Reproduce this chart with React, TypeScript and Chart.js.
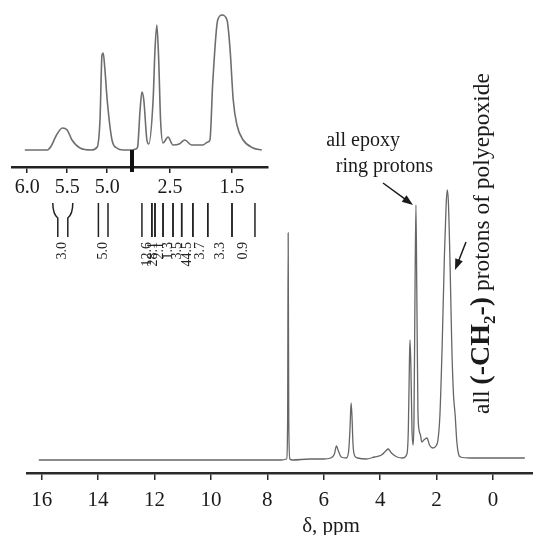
import React, { useEffect, useRef } from "react";
import { Chart, registerables } from "chart.js";

Chart.register(...registerables);

const SERIF = "'Liberation Serif', 'Times New Roman', serif";

// ---------- main spectrum ----------
const mainPpm = [
  16.1, 14.0, 10.0, 7.5, 7.32, 7.28, 7.26, 7.24, 7.2, 7.1, 6.5, 6.0, 5.75, 5.62, 5.55, 5.48, 5.38,
  5.2, 5.12, 5.07, 5.03, 5.0, 4.96, 4.9, 4.8, 4.5, 4.2, 3.95, 3.8, 3.72, 3.6, 3.4, 3.2, 3.05, 3.0,
  2.96, 2.94, 2.91, 2.87, 2.83, 2.8, 2.76, 2.73, 2.7, 2.66, 2.62, 2.57, 2.52, 2.45, 2.34, 2.25,
  2.13, 2.02, 1.95, 1.88, 1.8, 1.72, 1.66, 1.62, 1.58, 1.52, 1.46, 1.4, 1.34, 1.28, 1.22, 1.15, 0.8,
  0.0, -1.13,
];
const mainIntensity = [
  0, 0, 0, 0, 1, 40, 227, 40, 1, 0, 1, 1, 2, 6, 14, 9, 3,
  2, 8, 30, 57, 45, 15, 4, 2, 1, 3, 5, 9, 11, 7, 3, 2, 6, 30,
  100, 120, 95, 30, 15, 40, 180, 255, 170, 50, 30, 25, 18, 20, 22, 15,
  12, 14, 20, 45, 115, 205, 255, 270, 258, 195, 115, 66, 45, 18, 6, 3, 2,
  2, 2,
];
const mainTicks = [16, 14, 12, 10, 8, 6, 4, 2, 0];
const mainTitle = "δ, ppm";

// ---------- inset (broken axis) ----------
const insetLeftPpm = [6.03, 5.75, 5.7, 5.64, 5.56, 5.5, 5.44, 5.34, 5.2, 5.125, 5.09, 5.065, 5.05, 5.03, 5.0, 4.94, 4.88, 4.8, 4.69];
const insetLeftIntensity = [0, 0, 4, 14, 22, 20, 10, 2, 0, 3, 30, 95, 97, 82, 50, 10, 2, 0, 0];
const insetRightPpm = [
  3.11, 3.05, 3.02, 2.98, 2.95, 2.92, 2.87, 2.84, 2.77, 2.74, 2.71, 2.68, 2.65, 2.61, 2.53, 2.45,
  2.35, 2.26, 2.15, 1.97, 1.89, 1.855, 1.81, 1.73, 1.66, 1.58, 1.53, 1.48, 1.42, 1.32, 1.16, 1.02,
];
const insetRightIntensity = [
  0, 1, 3, 40, 58, 50, 10, 6, 50, 100, 125, 90, 30, 7, 13, 5,
  6, 10, 5, 5, 8, 10, 67, 130, 135, 130, 100, 50, 25, 10, 2, 0,
];
const insetLeftTicks = [6.0, 5.5, 5.0];
const insetRightTicks = [2.5, 1.5];

// integration regions [from ppm, to ppm] and values
const integLeftRegions = [[5.68, 5.43], [5.11, 4.99]];
const integLeftValues = ["3.0", "5.0"];
const integRightEdges = [2.95, 2.79, 2.74, 2.61, 2.45, 2.31, 2.13, 1.89, 1.5, 1.13];
const integRightValues = ["12.6", "28.1", "2.1", "1.3", "3.5", "44.5", "3.7", "3.3", "0.9"];

const epoxyLabel = ["all epoxy", "ring protons"];
const ch2Label = [
  { t: "all ", bold: false, sub: false },
  { t: "(-CH", bold: true, sub: false },
  { t: "2", bold: true, sub: true },
  { t: "-)", bold: true, sub: false },
  { t: " protons of polyepoxide", bold: false, sub: false },
];

function arrow(ctx: CanvasRenderingContext2D, x1: number, y1: number, x2: number, y2: number) {
  const a = Math.atan2(y2 - y1, x2 - x1);
  ctx.beginPath();
  ctx.moveTo(x1, y1);
  ctx.lineTo(x2 - 6 * Math.cos(a), y2 - 6 * Math.sin(a));
  ctx.stroke();
  ctx.beginPath();
  ctx.moveTo(x2, y2);
  ctx.lineTo(x2 - 11 * Math.cos(a) + 4 * Math.sin(a), y2 - 11 * Math.sin(a) - 4 * Math.cos(a));
  ctx.lineTo(x2 - 11 * Math.cos(a) - 4 * Math.sin(a), y2 - 11 * Math.sin(a) + 4 * Math.cos(a));
  ctx.closePath();
  ctx.fill();
}

const mainAnnot = {
  id: "mainAnnot",
  afterDraw(chart: any) {
    const { ctx } = chart;
    ctx.save();
    ctx.fillStyle = "#1a1a1a";
    ctx.strokeStyle = "#1a1a1a";
    ctx.font = `21px ${SERIF}`;
    ctx.textAlign = "center";
    ctx.textBaseline = "middle";
    ctx.fillText(mainTitle, 331, 526);

    ctx.font = `20px ${SERIF}`;
    ctx.textAlign = "right";
    ctx.textBaseline = "alphabetic";
    ctx.fillText(epoxyLabel[0], 400, 146);
    ctx.fillText(epoxyLabel[1], 433, 172);

    ctx.lineWidth = 1.5;
    arrow(ctx, 383, 183, 413, 205);
    arrow(ctx, 466, 242, 455, 270);

    ctx.translate(489, 414);
    ctx.rotate(-Math.PI / 2);
    ctx.textAlign = "left";
    let pos = 0;
    for (const s of ch2Label) {
      ctx.font = `${s.bold ? "bold " : ""}${s.sub ? 17 : s.bold ? 28 : 23.5}px ${SERIF}`;
      ctx.fillText(s.t, pos, s.sub ? 6 : 0);
      pos += ctx.measureText(s.t).width;
    }
    ctx.restore();
  },
};

function makeIntegPlugin(regions: number[][], values: string[], curved: boolean) {
  return {
    id: "integ",
    afterDraw(chart: any) {
      const { ctx } = chart;
      const x = chart.scales.x;
      ctx.save();
      ctx.strokeStyle = "#222";
      ctx.fillStyle = "#222";
      ctx.lineWidth = 1.5;
      regions.forEach((r, i) => {
        const p1 = x.getPixelForValue(r[0]);
        const p2 = x.getPixelForValue(r[1]);
        const c = (p1 + p2) / 2;
        const wide = curved && Math.abs(p2 - p1) > 14;
        [p1, p2].forEach((p) => {
          ctx.beginPath();
          ctx.moveTo(p, 203);
          if (wide) {
            const inner = p < c ? c - 5 : c + 5;
            ctx.quadraticCurveTo(p, 214, inner, 218);
            ctx.lineTo(inner, 237);
          } else {
            ctx.lineTo(p, 237);
          }
          ctx.stroke();
        });
        ctx.save();
        ctx.translate(c, 242);
        ctx.rotate(-Math.PI / 2);
        ctx.font = `14px ${SERIF}`;
        ctx.textAlign = "right";
        ctx.textBaseline = "middle";
        ctx.fillText(values[i], 0, 0);
        ctx.restore();
      });
      ctx.restore();
    },
  };
}

function insetConfig(ppm: number[], inten: number[], ticks: number[], min: number, max: number, padL: number, padR: number, plugin: any) {
  return {
    type: "line" as const,
    data: {
      datasets: [
        {
          data: ppm.map((p, i) => ({ x: p, y: inten[i] })),
          borderColor: "#6e6e6e",
          borderWidth: 1.6,
          pointRadius: 0,
          cubicInterpolationMode: "monotone" as const,
        },
      ],
    },
    options: {
      animation: false as const,
      responsive: false,
      maintainAspectRatio: false,
      layout: { padding: { left: padL, right: padR, top: 10, bottom: 0 } },
      plugins: { legend: { display: false }, tooltip: { enabled: false } },
      scales: {
        x: {
          type: "linear" as const,
          reverse: true,
          min,
          max,
          afterBuildTicks: (s: any) => {
            s.ticks = ticks.map((v) => ({ value: v }));
          },
          afterFit: (s: any) => {
            s.height = 118;
          },
          border: { display: true, color: "#222", width: 2.5 },
          grid: { display: true, drawOnChartArea: false, drawTicks: true, tickLength: 6, color: "#222", lineWidth: 1.5 },
          ticks: {
            color: "#1a1a1a",
            font: { family: SERIF, size: 20 },
            padding: 3,
            maxRotation: 0,
            callback: (v: any) => Number(v).toFixed(1),
          },
        },
        y: { display: false, min: -17, max: 140 },
      },
    },
    plugins: [plugin],
  };
}

export default function App() {
  const mainRef = useRef<HTMLCanvasElement>(null);
  const leftRef = useRef<HTMLCanvasElement>(null);
  const rightRef = useRef<HTMLCanvasElement>(null);

  useEffect(() => {
    const charts: Chart[] = [];
    charts.push(
      new Chart(mainRef.current!, {
        type: "line",
        data: {
          datasets: [
            {
              data: mainPpm.map((p, i) => ({ x: p, y: mainIntensity[i] })),
              borderColor: "#666",
              borderWidth: 1.3,
              pointRadius: 0,
              cubicInterpolationMode: "monotone",
            },
          ],
        },
        options: {
          animation: false,
          responsive: false,
          maintainAspectRatio: false,
          layout: { padding: { left: 27, right: 0, top: 10, bottom: 0 } },
          plugins: { legend: { display: false }, tooltip: { enabled: false } },
          scales: {
            x: {
              type: "linear",
              reverse: true,
              min: -1.42,
              max: 16.52,
              afterBuildTicks: (s: any) => {
                s.ticks = mainTicks.map((v) => ({ value: v }));
              },
              afterFit: (s: any) => {
                s.height = 62;
              },
              border: { display: true, color: "#2a2a2a", width: 2.5 },
              grid: { display: true, drawOnChartArea: false, drawTicks: true, tickLength: 7, color: "#2a2a2a", lineWidth: 1.5 },
              ticks: {
                color: "#1a1a1a",
                font: { family: SERIF, size: 21 },
                padding: 8,
                maxRotation: 0,
                callback: (v: any) => String(v),
              },
            },
            y: { display: false, min: -13, max: 450 },
          },
        },
        plugins: [mainAnnot],
      } as any)
    );
    charts.push(
      new Chart(
        leftRef.current!,
        insetConfig(insetLeftPpm, insetLeftIntensity, insetLeftTicks, 4.69, 6.19, 12, 2, makeIntegPlugin(integLeftRegions, integLeftValues, true)) as any
      )
    );
    const rightRegions = integRightValues.map((_, i) => [integRightEdges[i], integRightEdges[i + 1]]);
    charts.push(
      new Chart(
        rightRef.current!,
        insetConfig(insetRightPpm, insetRightIntensity, insetRightTicks, 0.92, 3.11, 0, 4, makeIntegPlugin(rightRegions, integRightValues, false)) as any
      )
    );
    return () => charts.forEach((c) => c.destroy());
  }, []);

  return (
    <div style={{ position: "absolute", left: 0, top: 0, width: 533, height: 535, background: "#fff", overflow: "hidden" }}>
      <canvas ref={mainRef} width={533} height={535} style={{ position: "absolute", left: 0, top: 0, display: "block" }} />
      <canvas ref={leftRef} width={134} height={285} style={{ position: "absolute", left: 0, top: 0, display: "block" }} />
      <canvas ref={rightRef} width={140} height={285} style={{ position: "absolute", left: 132, top: 0, display: "block" }} />
      <div style={{ position: "absolute", left: 130, top: 150, width: 4, height: 22, background: "#111" }} />
    </div>
  );
}
